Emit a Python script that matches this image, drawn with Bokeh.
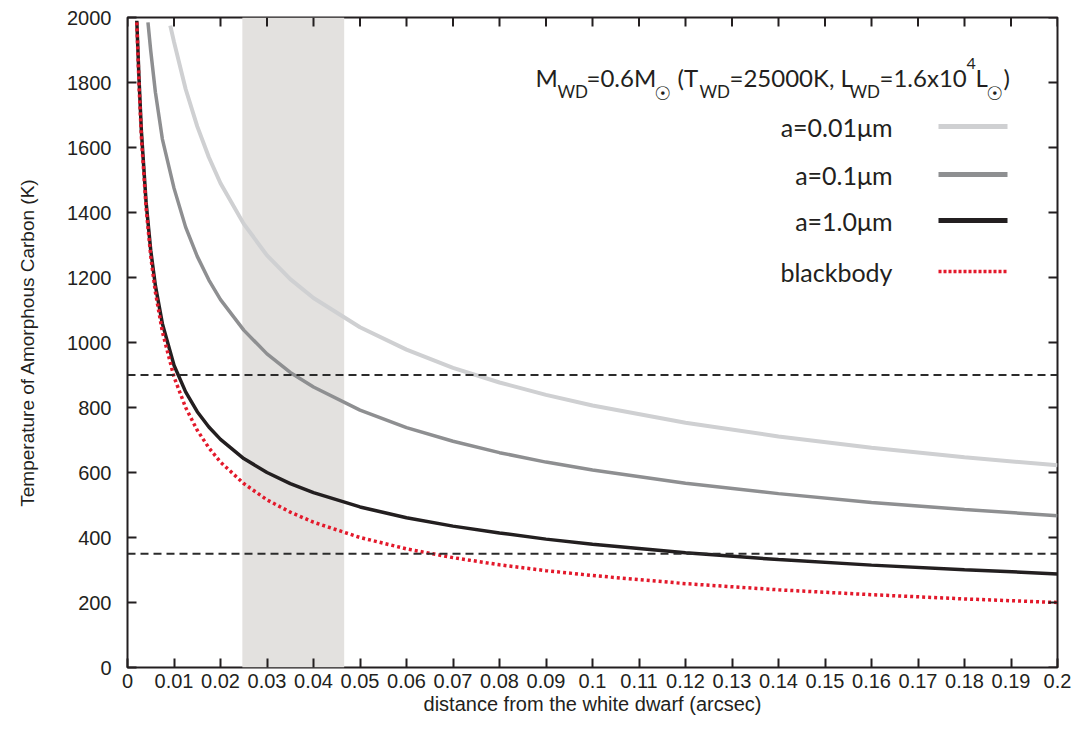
from bokeh.plotting import figure
from bokeh.models import Span, BoxAnnotation, Label, FixedTicker, Range1d
from bokeh.embed import file_html
from bokeh.resources import INLINE

# ---------------- data ----------------
x_ticks = [0, 0.01, 0.02, 0.03, 0.04, 0.05, 0.06, 0.07, 0.08, 0.09, 0.1,
           0.11, 0.12, 0.13, 0.14, 0.15, 0.16, 0.17, 0.18, 0.19, 0.2]
x_tick_labels = ["0", "0.01", "0.02", "0.03", "0.04", "0.05", "0.06", "0.07", "0.08", "0.09", "0.1",
                 "0.11", "0.12", "0.13", "0.14", "0.15", "0.16", "0.17", "0.18", "0.19", "0.2"]
y_ticks = [0, 200, 400, 600, 800, 1000, 1200, 1400, 1600, 1800, 2000]
y_tick_labels = ["0", "200", "400", "600", "800", "1000", "1200", "1400", "1600", "1800", "2000"]

# a = 0.01 micron
d_a001 = [0.0092, 0.0100, 0.0125, 0.0150, 0.0175, 0.0200, 0.0250, 0.0300, 0.0350, 0.0400,
          0.0500, 0.0600, 0.0700, 0.0800, 0.0900, 0.1000, 0.1200, 0.1400, 0.1600, 0.1800, 0.2000]
T_a001 = [1975, 1925, 1780, 1665, 1570, 1490, 1365, 1268, 1195, 1137,
          1047, 978, 922, 877, 839, 806, 753, 711, 676, 647, 622]

# a = 0.1 micron
d_a01 = [0.0044, 0.0050, 0.0060, 0.0075, 0.0100, 0.0125, 0.0150, 0.0175, 0.0200, 0.0250,
         0.0300, 0.0350, 0.0400, 0.0500, 0.0600, 0.0700, 0.0800, 0.0900, 0.1000, 0.1200,
         0.1400, 0.1600, 0.1800, 0.2000]
T_a01 = [1985, 1897, 1770, 1626, 1475, 1355, 1265, 1192, 1132, 1038,
         965, 908, 863, 792, 738, 696, 661, 632, 608, 567,
         535, 508, 486, 467]

# a = 1.0 micron
d_a1 = [0.0020, 0.0025, 0.0030, 0.0040, 0.0050, 0.0060, 0.0075, 0.0100, 0.0125, 0.0150,
        0.0175, 0.0200, 0.0250, 0.0300, 0.0350, 0.0400, 0.0500, 0.0600, 0.0700, 0.0800,
        0.0900, 0.1000, 0.1200, 0.1400, 0.1600, 0.1800, 0.2000]
T_a1 = [1990, 1804, 1647, 1431, 1283, 1175, 1058, 930, 848, 787,
        740, 702, 643, 600, 566, 538, 494, 461, 435, 414,
        395, 379, 353, 332, 315, 301, 288]

# blackbody
d_bb = [0.0020, 0.0025, 0.0030, 0.0040, 0.0050, 0.0060, 0.0075, 0.0100, 0.0125, 0.0150,
        0.0175, 0.0200, 0.0250, 0.0300, 0.0350, 0.0400, 0.0500, 0.0600, 0.0700, 0.0800,
        0.0900, 0.1000, 0.1200, 0.1400, 0.1600, 0.1800, 0.2000]
T_bb = [1985, 1785, 1630, 1414, 1265, 1155, 1033, 894, 800, 730,
        676, 632, 566, 516, 478, 447, 400, 365, 338, 316,
        298, 283, 258, 239, 224, 211, 200]

series_labels = ["a=0.01\u03bcm", "a=0.1\u03bcm", "a=1.0\u03bcm", "blackbody"]

shade_left, shade_right = 0.0247, 0.0466
T_upper, T_lower = 900, 350

# ---------------- styling / layout ----------------
W, H = 1073, 731
LEFT, RIGHT, TOP, BOTTOM = 127, 16, 17, 64
FW, FH = W - LEFT - RIGHT, H - TOP - BOTTOM
XMAX, YMAX = 0.2, 2000
INK = "#231f20"
col_light, col_mid, col_dark, col_red = "#cfd0d2", "#8e8f91", "#231f20", "#e3192b"
TICK_PX = 9


def px_x(px):
    return (px - LEFT) / FW * XMAX


def px_y(py):
    return (TOP + FH - py) / FH * YMAX


p = figure(width=W, height=H, x_range=Range1d(0, XMAX), y_range=Range1d(0, YMAX),
           output_backend="svg", toolbar_location=None,
           min_border_left=LEFT, min_border_right=RIGHT,
           min_border_top=TOP, min_border_bottom=BOTTOM)
p.xgrid.visible = False
p.ygrid.visible = False
p.outline_line_color = INK
p.outline_line_width = 2
p.outline_line_alpha = 1
p.background_fill_color = "white"
p.border_fill_color = "white"

# shaded band
p.add_layout(BoxAnnotation(left=shade_left, right=shade_right, fill_color="#e3e1df",
                           fill_alpha=1, line_color=None, level="underlay"))

# dashed levels
for t in (T_upper, T_lower):
    p.add_layout(Span(location=t, dimension="width", line_color="#2b2b2b",
                      line_width=2, line_dash="8 5"))

# curves
p.line(d_a001, T_a001, line_color=col_light, line_width=4)
p.line(d_a01, T_a01, line_color=col_mid, line_width=3.5)
p.line(d_a1, T_a1, line_color=col_dark, line_width=3.5)
p.line(d_bb, T_bb, line_color=col_red, line_width=3.5, line_dash="3 3")

# axes (bottom / left, ticks pointing inward)
def style_axis(ax, ticks, labels, standoff):
    ax.ticker = FixedTicker(ticks=ticks, minor_ticks=[])
    ax.major_label_overrides = {t: l for t, l in zip(ticks, labels)}
    ax.axis_line_color = None
    ax.major_tick_line_color = INK
    ax.major_tick_line_width = 2
    ax.major_tick_in = TICK_PX
    ax.major_tick_out = 0
    ax.minor_tick_line_color = None
    ax.major_label_standoff = standoff
    ax.major_label_text_font = "Liberation Sans"
    ax.major_label_text_color = INK
    ax.major_label_text_font_size = "20px"


style_axis(p.xaxis[0], x_ticks, x_tick_labels, 6)
style_axis(p.yaxis[0], y_ticks, y_tick_labels, 16)
p.xaxis[0].axis_label = "distance from the white dwarf (arcsec)"
p.xaxis[0].axis_label_text_font = "Liberation Sans"
p.xaxis[0].axis_label_text_font_style = "normal"
p.xaxis[0].axis_label_text_font_size = "20px"
p.xaxis[0].axis_label_text_color = INK
p.xaxis[0].axis_label_standoff = 2
p.yaxis[0].axis_label = "Temperature of Amorphous Carbon (K)"
p.yaxis[0].axis_label_text_font = "Liberation Sans"
p.yaxis[0].axis_label_text_font_style = "normal"
p.yaxis[0].axis_label_text_font_size = "19px"
p.yaxis[0].axis_label_text_color = INK
p.yaxis[0].axis_label_standoff = 26

# mirrored inward ticks on the top and right edges
dx = TICK_PX / FW * XMAX
dy = TICK_PX / FH * YMAX
p.segment(x0=x_ticks, y0=[YMAX] * len(x_ticks), x1=x_ticks, y1=[YMAX - dy] * len(x_ticks),
          line_color=INK, line_width=2)
p.segment(x0=[XMAX] * len(y_ticks), y0=y_ticks, x1=[XMAX - dx] * len(y_ticks), y1=y_ticks,
          line_color=INK, line_width=2)

# legend (text on the left, sample on the right)
leg_text_px = 892
leg_line_px = (938, 1007)
leg_rows_py = [126, 174, 220, 271]
leg_colors = [col_light, col_mid, col_dark, col_red]
leg_widths = [5, 5, 5, 3.5]
for lab, py, c, lw in zip(series_labels, leg_rows_py, leg_colors, leg_widths):
    p.add_layout(Label(x=px_x(leg_text_px), y=px_y(py), text=lab, text_align="right",
                       text_baseline="middle", text_font="Lato", text_font_size="25px",
                       text_color=INK))
    p.segment(x0=[px_x(leg_line_px[0])], y0=[px_y(py)], x1=[px_x(leg_line_px[1])], y1=[px_y(py)],
              line_color=c, line_width=lw, line_dash=("3 2" if c == col_red else "solid"))

# header annotation built from pieces (main / subscript / superscript)
MAIN_PY, SUB_PY, SUP_PY = 77, 91, 63
pieces = [
    ("M", 535, "main"), ("WD", 557, "sub"), ("=0.6M", 586, "main"), ("\u2609", 654, "sun"),
    ("(T", 677, "main"), ("WD", 699, "sub"), ("=25000K, L", 729, "main"), ("WD", 849, "sub"),
    ("=1.6x10", 879, "main"), ("4", 966, "sup"), ("L", 975, "main"), ("\u2609", 986, "sun"),
    (")", 1003, "main"),
]
for txt, px, kind in pieces:
    style = "normal"
    if kind == "main":
        py, fs, font = MAIN_PY, "24px", "Lato"
    elif kind == "sub":
        py, fs, font = SUB_PY, "17px", "Lato"
    elif kind == "sup":
        py, fs, font = SUP_PY, "16px", "Lato"
    else:
        py, fs, font, style = SUB_PY + 1, "19px", "DejaVu Sans", "bold"
    p.add_layout(Label(x=px_x(px), y=px_y(py), text=txt, text_align="left",
                       text_baseline="alphabetic", text_font=font, text_font_size=fs,
                       text_font_style=style, text_color=INK))

open("out.html", "w").write(file_html(p, INLINE))
